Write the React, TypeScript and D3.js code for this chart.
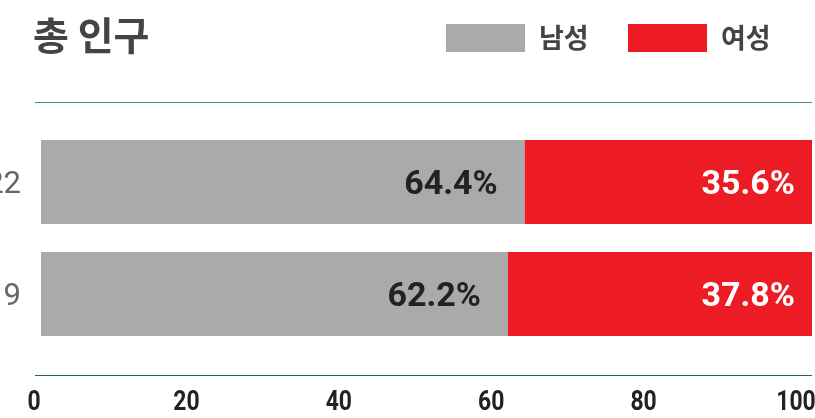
import React, { useEffect, useRef } from 'react';
import * as d3 from 'd3';

const years = ['2022', '2019'];
const male = [64.4, 62.2];
const female = [35.6, 37.8];
const seriesNames = ['남성', '여성'];
const seriesColors = ['#aaaaaa', '#ed1c24'];
const xTicks = [0, 20, 40, 60, 80, 100];

const width = 815;
const height = 418;

export default function App() {
  const ref = useRef<SVGSVGElement>(null);

  useEffect(() => {
    const svg = d3.select(ref.current);
    svg.selectAll('*').remove();

    const plotLeft = 41;
    const plotRight = 812;

    const x = d3.scaleLinear().domain([0, 100]).range([34, 796]);
    const y = d3.scaleBand<string>()
      .domain(years)
      .range([126, 350])
      .paddingInner(0.25)
      .paddingOuter(0.125);

    // title
    svg.append('text')
      .attr('x', 33)
      .attr('y', 50)
      .attr('font-family', '"Noto Sans CJK KR", "Noto Sans", sans-serif')
      .attr('font-weight', 700)
      .attr('font-size', 39)
      .attr('fill', '#444')
      .text('총 인구');

    // legend
    const legendX = [446, 628];
    const legend = svg.selectAll('.legend')
      .data(seriesNames)
      .enter()
      .append('g')
      .attr('class', 'legend')
      .attr('transform', (d, i) => `translate(${legendX[i]}, 24)`);
    legend.append('rect')
      .attr('width', 79)
      .attr('height', 28)
      .attr('fill', (d, i) => seriesColors[i]);
    legend.append('text')
      .attr('x', 93)
      .attr('y', 24)
      .attr('font-family', '"Noto Sans CJK KR", sans-serif')
      .attr('font-weight', 700)
      .attr('font-size', 27)
      .attr('fill', '#444')
      .text(d => d);

    // top rule
    svg.append('line')
      .attr('x1', 35).attr('x2', plotRight)
      .attr('y1', 102.5).attr('y2', 102.5)
      .attr('stroke', '#4b8593')
      .attr('stroke-width', 1.2);

    const rows = years.map((yr, i) => ({ yr, m: male[i], f: female[i] }));

    const g = svg.selectAll('.row')
      .data(rows)
      .enter()
      .append('g')
      .attr('class', 'row');

    g.append('rect')
      .attr('x', plotLeft)
      .attr('y', d => y(d.yr)!)
      .attr('width', d => x(d.m) - plotLeft)
      .attr('height', y.bandwidth())
      .attr('fill', seriesColors[0]);

    g.append('rect')
      .attr('x', d => x(d.m))
      .attr('y', d => y(d.yr)!)
      .attr('width', d => plotRight - x(d.m))
      .attr('height', y.bandwidth())
      .attr('fill', seriesColors[1]);

    g.append('text')
      .attr('x', d => x(d.m) - 27)
      .attr('y', d => y(d.yr)! + y.bandwidth() / 2)
      .attr('dy', '0.36em')
      .attr('text-anchor', 'end')
      .attr('font-family', 'Roboto, sans-serif')
      .attr('font-weight', 700)
      .attr('font-size', 34)
      .attr('fill', '#222')
      .text(d => `${d.m}%`);

    g.append('text')
      .attr('x', x(100) - 1)
      .attr('y', d => y(d.yr)! + y.bandwidth() / 2)
      .attr('dy', '0.36em')
      .attr('text-anchor', 'end')
      .attr('font-family', 'Roboto, sans-serif')
      .attr('font-weight', 700)
      .attr('font-size', 34)
      .attr('fill', '#fff')
      .text(d => `${d.f}%`);

    // year labels (cut by the left edge)
    g.append('text')
      .attr('x', 21)
      .attr('y', d => y(d.yr)! + y.bandwidth() / 2)
      .attr('dy', '0.36em')
      .attr('text-anchor', 'end')
      .attr('font-family', 'Roboto, sans-serif')
      .attr('font-size', 31)
      .attr('fill', '#666')
      .text(d => d.yr);

    // bottom axis
    svg.append('line')
      .attr('x1', 35).attr('x2', plotRight)
      .attr('y1', 375.5).attr('y2', 375.5)
      .attr('stroke', '#2c5e66')
      .attr('stroke-width', 1.2);

    svg.selectAll('.tick')
      .data(xTicks)
      .enter()
      .append('text')
      .attr('class', 'tick')
      .attr('transform', d => `translate(${x(d)}, 410) scale(0.85, 1)`)
      .attr('text-anchor', 'middle')
      .attr('font-family', 'Roboto, sans-serif')
      .attr('font-weight', 700)
      .attr('font-size', 27)
      .attr('fill', '#222')
      .text(d => d);
  }, []);

  return (
    <div style={{ position: 'fixed', left: 0, top: 0 }}>
      <svg ref={ref} width={width} height={height} style={{ display: 'block' }} />
    </div>
  );
}
